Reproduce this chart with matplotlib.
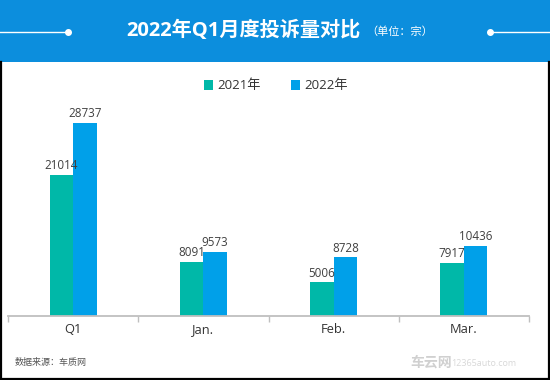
import matplotlib
matplotlib.use("Agg")
import matplotlib.pyplot as plt
from matplotlib.patches import Rectangle
from matplotlib.lines import Line2D
import numpy as np

plt.rcParams['font.family'] = ['Open Sans', 'Noto Sans CJK SC', 'DejaVu Sans']

categories = ['Q1', 'Jan.', 'Feb.', 'Mar.']
series_names = ['2021年', '2022年']
values_2021 = [21014, 8091, 5006, 7917]
values_2022 = [28737, 9573, 8728, 10436]
colors = ['#00B8A8', '#00A0E9']

W, H = 550, 380
fig = plt.figure(figsize=(5.5, 3.8), dpi=100)
fig.patch.set_facecolor('white')

def fx(px):
    return px / W

def fy(py):
    return 1 - py / H

# header band
fig.patches.append(Rectangle((0, fy(62)), 1, 62 / H, transform=fig.transFigure,
                             facecolor='#0C8EDD', edgecolor='none', zorder=0))
# border around white area
fig.add_artist(Line2D([fx(0.8), fx(0.8)], [fy(62), fy(378.5)], transform=fig.transFigure, color='black', lw=1.6))
fig.add_artist(Line2D([fx(548.7), fx(548.7)], [fy(62), fy(378.5)], transform=fig.transFigure, color='black', lw=1.6))
fig.add_artist(Line2D([fx(0), fx(550)], [fy(378.5), fy(378.5)], transform=fig.transFigure, color='black', lw=1.6))

# decorative header lines
fig.add_artist(Line2D([fx(0), fx(68)], [fy(32), fy(32)], transform=fig.transFigure, color='white', lw=1.0))
fig.add_artist(Line2D([fx(68)], [fy(32)], transform=fig.transFigure, color='white', marker='o', ms=4, lw=0))
fig.add_artist(Line2D([fx(490), fx(550)], [fy(32), fy(32)], transform=fig.transFigure, color='white', lw=1.0))
fig.add_artist(Line2D([fx(490)], [fy(32)], transform=fig.transFigure, color='white', marker='o', ms=4, lw=0))

# title
fig.text(fx(361), fy(31), '2022年Q1月度投诉量对比', ha='right', va='center', color='white',
         fontsize=14.5, fontweight='bold')
fig.text(fx(366), fy(32), '（单位：宗）', ha='left', va='center', color='white', fontsize=8)

# axes
ax_left, ax_right = 8, 529
y_base, y_top = 316, 101
ymax = 32000
ax = fig.add_axes([fx(ax_left), fy(y_base), (ax_right - ax_left) / W, (y_base - y_top) / H])
ax.set_xlim(-0.5, len(categories) - 0.5)
ax.set_ylim(0, ymax)

x = np.arange(len(categories))
bw = 0.18
b1 = ax.bar(x - bw / 2, values_2021, bw, color=colors[0], label=series_names[0])
b2 = ax.bar(x + bw / 2, values_2022, bw, color=colors[1], label=series_names[1])
for bars, vals in ((b1, values_2021), (b2, values_2022)):
    for rect, v in zip(bars, vals):
        ax.annotate(f'{v}', (rect.get_x() + rect.get_width() / 2, v), xytext=(0, 2),
                    textcoords='offset points', ha='center', va='bottom',
                    fontsize=8.4, color='#404040')

for s in ['top', 'right', 'left']:
    ax.spines[s].set_visible(False)
ax.spines['bottom'].set_color('#BFBFBF')
ax.spines['bottom'].set_linewidth(1.3)
ax.set_yticks([])
ax.set_xticks(x)
ax.set_xticklabels(categories, fontsize=9.3, color='#333333')
ax.tick_params(axis='x', which='major', length=0, pad=5)
ax.set_xticks(np.arange(-0.5, len(categories)), minor=True)
ax.tick_params(axis='x', which='minor', length=4, color='#BFBFBF', width=1.0)
ax.patch.set_alpha(0)

# legend
leg = fig.legend(handles=[b1, b2], labels=series_names, loc='center',
                 bbox_to_anchor=(fx(276), fy(86)), ncol=2, frameon=False,
                 fontsize=9.5, handlelength=0.7, handleheight=0.7, handletextpad=0.3,
                 columnspacing=2.3, labelcolor='#333333')

# source
fig.text(fx(15), fy(363), '数据来源：车质网', ha='left', va='center', fontsize=6.5, color='#555555')
# watermark
fig.text(fx(410), fy(363), '车云网', ha='left', va='center', fontsize=10, color='#D0D0D0', fontweight='bold')
fig.text(fx(451), fy(364), '12365auto.com', ha='left', va='center', fontsize=6.5, color='#D8D8D8')

fig.savefig('out.png', dpi=100)
